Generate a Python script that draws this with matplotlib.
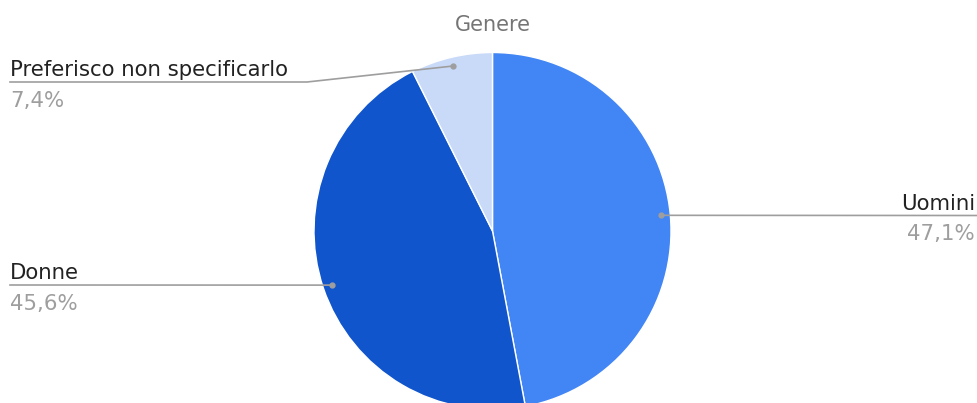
import numpy as np
import matplotlib.pyplot as plt

# Data
labels = ["Uomini", "Donne", "Preferisco non specificarlo"]
shares = [47.1, 45.6, 7.4]
pct_text = ["47,1%", "45,6%", "7,4%"]
colors = ["#4285f4", "#1155cc", "#c9daf8"]

W, H = 977, 403
fig = plt.figure(figsize=(W / 100, H / 100), dpi=100)
ax = fig.add_axes([0, 0, 1, 1])

cx, cy, r = 492.5, H - 231, 178.5
wedges, _ = ax.pie(shares, colors=colors, startangle=90, counterclock=False,
                   center=(cx, cy), radius=r, frame=True,
                   wedgeprops=dict(edgecolor="white", linewidth=1))
ax.set_xlim(0, W)
ax.set_ylim(0, H)
ax.set_aspect("equal")
ax.axis("off")

ax.text(cx, H - 25, "Genere", ha="center", va="center", fontsize=15, color="#757575")

line_c = "#9e9e9e"
# label line y (pixels from top) for each slice
label_rows = {"Uomini": 215.5, "Donne": 285, "Preferisco non specificarlo": 82}
for w, lab, pct in zip(wedges, labels, pct_text):
    ang = np.deg2rad((w.theta1 + w.theta2) / 2)
    px = cx + 0.95 * r * np.cos(ang)
    py = cy + 0.95 * r * np.sin(ang)
    ly = H - label_rows[lab]
    ax.plot(px, py, "o", ms=3.5, color=line_c, zorder=5)
    if px > cx:
        ax.plot([px, W], [py, ly], color=line_c, lw=1.2)
        x_t, ha = 975, "right"
    else:
        if abs(py - ly) > 2:
            elbow = 307
            ax.plot([10, elbow, px], [ly, ly, py], color=line_c, lw=1.2)
        else:
            ax.plot([10, px], [ly, py], color=line_c, lw=1.2)
        x_t, ha = 10, "left"
    ax.text(x_t, ly + 6, lab, ha=ha, va="baseline", fontsize=15.3, color="#222222")
    ax.text(x_t, ly - 25, pct, ha=ha, va="baseline", fontsize=15.3, color="#9e9e9e")

fig.savefig("out.png", dpi=100)
